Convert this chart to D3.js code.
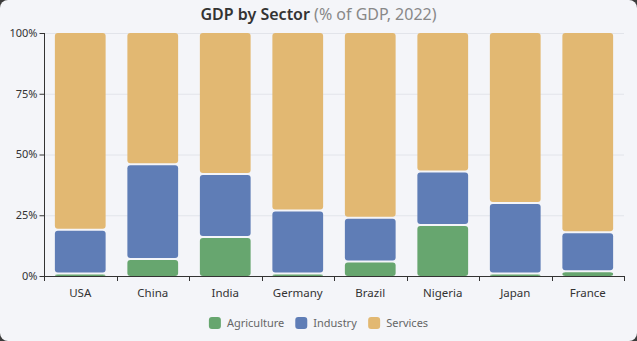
<!DOCTYPE html>
<html>
<head>
<meta charset="utf-8">
<script src="https://cdn.jsdelivr.net/npm/d3@7"></script>
<style>
  html, body { margin: 0; padding: 0; background: #3b3b3b; }
  #chart { width: 637px; height: 341px; background: #f4f5f9; border-radius: 8px; overflow: hidden; }
  text { font-family: "Noto Sans", "Open Sans", sans-serif; }
</style>
</head>
<body>
<div id="chart"></div>
<script>
var countries = ["USA", "China", "India", "Germany", "Brazil", "Nigeria", "Japan", "France"];
var sectors = ["Agriculture", "Industry", "Services"];
var agriculture = [1, 7, 16, 1, 6, 21, 1, 2];
var industry = [18, 39, 26, 26, 18, 22, 29, 16];
var services = [81, 54, 58, 73, 76, 57, 70, 82];
var yTicks = [0, 25, 50, 75, 100];
var colors = ["#67a66f", "#5f7db6", "#e2b872"];

var W = 637, H = 341;
var margin = {top: 33, right: 13, bottom: 65, left: 44},
    width = W - margin.left - margin.right,
    height = H - margin.top - margin.bottom;

var svg = d3.select("#chart").append("svg")
    .attr("width", W)
    .attr("height", H);

var g = svg.append("g").attr("transform", "translate(" + margin.left + "," + margin.top + ")");

var data = countries.map(function(c, i) {
  return {country: c, Agriculture: agriculture[i], Industry: industry[i], Services: services[i]};
});

var x = d3.scaleBand().domain(countries).range([0, width]).padding(0);
var y = d3.scaleLinear().domain([0, 100]).range([height, 0]);
var z = d3.scaleOrdinal().domain(sectors).range(colors);

// grid
g.append("g")
  .selectAll("line")
  .data(yTicks.slice(1))
  .enter().append("line")
    .attr("x1", 0)
    .attr("x2", width)
    .attr("y1", function(d) { return y(d) + 0.5; })
    .attr("y2", function(d) { return y(d) + 0.5; })
    .attr("stroke", "#e2e4ea")
    .attr("stroke-width", 1);

// bars
var barW = x.bandwidth() * 0.7;
var gap = 1;
g.append("g")
  .selectAll("g")
  .data(d3.stack().keys(sectors)(data))
  .enter().append("g")
    .attr("fill", function(d) { return z(d.key); })
  .selectAll("rect")
  .data(function(d) { return d; })
  .enter().append("rect")
    .attr("x", function(d) { return x(d.data.country) + (x.bandwidth() - barW) / 2; })
    .attr("y", function(d) { return y(d[1]) + (d[1] < 100 ? gap : 0); })
    .attr("width", barW)
    .attr("height", function(d) { return Math.max(0, y(d[0]) - y(d[1]) - (d[1] < 100 ? gap : 0) - (d[0] > 0 ? gap : 0)); })
    .attr("rx", 3);

// axes
var xAxis = g.append("g")
  .attr("transform", "translate(0," + height + ")");
xAxis.append("line")
  .attr("x1", 0).attr("x2", width + 0.5)
  .attr("y1", 0.5).attr("y2", 0.5)
  .attr("stroke", "#333");
xAxis.selectAll(".tk")
  .data(d3.range(countries.length + 1))
  .enter().append("line")
    .attr("x1", function(i) { return Math.round(i * x.step()) + 0.5; })
    .attr("x2", function(i) { return Math.round(i * x.step()) + 0.5; })
    .attr("y1", 0)
    .attr("y2", 5)
    .attr("stroke", "#333");
xAxis.selectAll(".lbl")
  .data(countries)
  .enter().append("text")
    .attr("x", function(d) { return x(d) + x.bandwidth() / 2; })
    .attr("y", 21)
    .attr("text-anchor", "middle")
    .attr("font-size", 11.5)
    .attr("fill", "#333")
    .text(function(d) { return d; });

var yAxis = g.append("g").attr("transform", "translate(0.5,0)");
yAxis.append("line")
  .attr("x1", 0).attr("x2", 0)
  .attr("y1", 0).attr("y2", height)
  .attr("stroke", "#333");
yAxis.selectAll(".tk")
  .data(yTicks)
  .enter().append("line")
    .attr("x1", -5).attr("x2", 0)
    .attr("y1", function(d) { return y(d) + 0.5; })
    .attr("y2", function(d) { return y(d) + 0.5; })
    .attr("stroke", "#333");
yAxis.selectAll(".lbl")
  .data(yTicks)
  .enter().append("text")
    .attr("x", -7)
    .attr("y", function(d) { return y(d); })
    .attr("dy", "0.35em")
    .attr("text-anchor", "end")
    .attr("font-size", 11)
    .attr("fill", "#333")
    .text(function(d) { return d + "%"; });

// title
var title = svg.append("text")
  .attr("x", W / 2)
  .attr("y", 20)
  .attr("text-anchor", "middle")
  .attr("font-size", 16);
title.append("tspan").attr("fill", "#333").attr("font-weight", 600).text("GDP by Sector ");
title.append("tspan").attr("fill", "#888").text("(% of GDP, 2022)");

// legend
var legend = svg.append("g").attr("transform", "translate(0,323)");
var items = legend.selectAll("g")
  .data(sectors)
  .enter().append("g");
items.append("rect")
  .attr("y", -6)
  .attr("width", 12)
  .attr("height", 12)
  .attr("rx", 3)
  .attr("fill", z);
items.append("text")
  .attr("x", 18)
  .attr("dy", "0.35em")
  .attr("font-size", 11)
  .attr("fill", "#666")
  .text(function(d) { return d; });
var xpos = 0, offs = [];
items.each(function() {
  offs.push(xpos);
  xpos += this.getBBox().width + 11;
});
var total = xpos - 11;
items.attr("transform", function(d, i) { return "translate(" + (W / 2 - total / 2 + offs[i]) + ",0)"; });
</script>
</body>
</html>
